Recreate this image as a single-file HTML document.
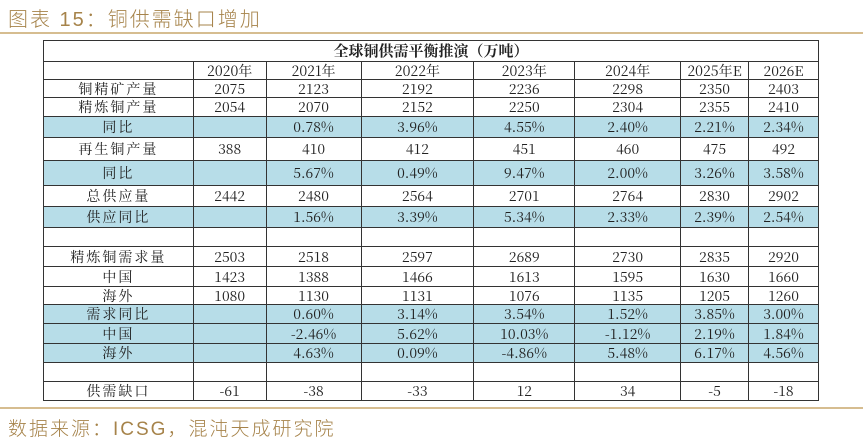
<!DOCTYPE html><html><head><meta charset="utf-8"><style>
body{margin:0;width:863px;height:438px;background:#fff;position:relative;overflow:hidden;font-family:"Noto Serif CJK SC",serif;}
.t{position:absolute;left:8px;top:3px;font-size:20px;color:#a6834a;font-family:"Liberation Sans","Noto Sans CJK SC",sans-serif;letter-spacing:2px;font-weight:300}
.hl{position:absolute;left:0;width:863px;height:2px;background:#d6bd90}
table{position:absolute;left:43px;top:40px;border-collapse:collapse;width:776px;font-size:14px;color:#222;font-family:"Noto Serif CJK SC",serif}
td{border:1px solid #333;text-align:center;padding:0;line-height:16px;vertical-align:middle}
td.h{font-weight:bold;font-size:15px}
td.l{letter-spacing:2px}
tr.b td{background:#b7dde8}
.s{position:absolute;left:8px;top:414px;font-size:19px;color:#a6834a;font-family:"Liberation Sans","Noto Sans CJK SC",sans-serif;letter-spacing:2px;font-weight:300}
</style></head><body>
<div class="t">图表 15：铜供需缺口增加</div>
<div class="hl" style="top:32px"></div>
<table>
<colgroup><col style="width:150px"><col style="width:73px"><col style="width:95px"><col style="width:113px"><col style="width:101px"><col style="width:106px"><col style="width:68px"><col style="width:70px"></colgroup>
<tr style="height:21px"><td class="h" colspan="8">全球铜供需平衡推演（万吨）</td></tr>
<tr style="height:18px"><td></td><td>2020年</td><td>2021年</td><td>2022年</td><td>2023年</td><td>2024年</td><td>2025年E</td><td>2026E</td></tr>
<tr style="height:18px"><td class="l">铜精矿产量</td><td>2075</td><td>2123</td><td>2192</td><td>2236</td><td>2298</td><td>2350</td><td>2403</td></tr>
<tr style="height:19px"><td class="l">精炼铜产量</td><td>2054</td><td>2070</td><td>2152</td><td>2250</td><td>2304</td><td>2355</td><td>2410</td></tr>
<tr class="b" style="height:21px"><td class="l">同比</td><td></td><td>0.78%</td><td>3.96%</td><td>4.55%</td><td>2.40%</td><td>2.21%</td><td>2.34%</td></tr>
<tr style="height:23px"><td class="l">再生铜产量</td><td>388</td><td>410</td><td>412</td><td>451</td><td>460</td><td>475</td><td>492</td></tr>
<tr class="b" style="height:25px"><td class="l">同比</td><td></td><td>5.67%</td><td>0.49%</td><td>9.47%</td><td>2.00%</td><td>3.26%</td><td>3.58%</td></tr>
<tr style="height:21px"><td class="l">总供应量</td><td>2442</td><td>2480</td><td>2564</td><td>2701</td><td>2764</td><td>2830</td><td>2902</td></tr>
<tr class="b" style="height:21px"><td class="l">供应同比</td><td></td><td>1.56%</td><td>3.39%</td><td>5.34%</td><td>2.33%</td><td>2.39%</td><td>2.54%</td></tr>
<tr style="height:19px"><td></td><td></td><td></td><td></td><td></td><td></td><td></td><td></td></tr>
<tr style="height:20px"><td class="l">精炼铜需求量</td><td>2503</td><td>2518</td><td>2597</td><td>2689</td><td>2730</td><td>2835</td><td>2920</td></tr>
<tr style="height:20px"><td class="l">中国</td><td>1423</td><td>1388</td><td>1466</td><td>1613</td><td>1595</td><td>1630</td><td>1660</td></tr>
<tr style="height:18px"><td class="l">海外</td><td>1080</td><td>1130</td><td>1131</td><td>1076</td><td>1135</td><td>1205</td><td>1260</td></tr>
<tr class="b" style="height:19px"><td class="l">需求同比</td><td></td><td>0.60%</td><td>3.14%</td><td>3.54%</td><td>1.52%</td><td>3.85%</td><td>3.00%</td></tr>
<tr class="b" style="height:20px"><td class="l">中国</td><td></td><td>-2.46%</td><td>5.62%</td><td>10.03%</td><td>-1.12%</td><td>2.19%</td><td>1.84%</td></tr>
<tr class="b" style="height:19px"><td class="l">海外</td><td></td><td>4.63%</td><td>0.09%</td><td>-4.86%</td><td>5.48%</td><td>6.17%</td><td>4.56%</td></tr>
<tr style="height:19px"><td></td><td></td><td></td><td></td><td></td><td></td><td></td><td></td></tr>
<tr style="height:19px"><td class="l">供需缺口</td><td>-61</td><td>-38</td><td>-33</td><td>12</td><td>34</td><td>-5</td><td>-18</td></tr>
</table>
<div class="hl" style="top:407px"></div>
<div class="s">数据来源：ICSG，混沌天成研究院</div>
</body></html>
